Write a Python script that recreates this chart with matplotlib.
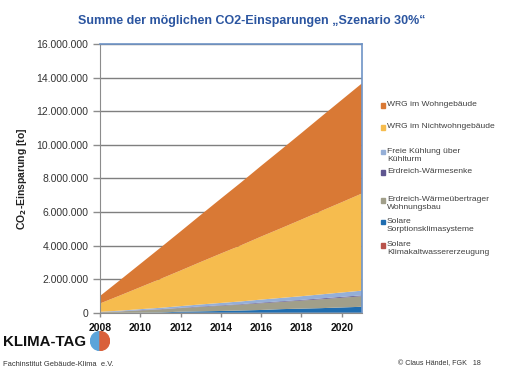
import numpy as np
import matplotlib
matplotlib.use("Agg")
import matplotlib.pyplot as plt
from matplotlib.ticker import FuncFormatter
from matplotlib.patches import Wedge

plt.rcParams['font.family'] = ['Liberation Sans', 'DejaVu Sans']

# ===== Daten (Mio. t CO2, jährlich) =====
jahre = np.arange(2008, 2022)
solar_kaltwasser = [0.00, 0.00, 0.00, 0.00, 0.01, 0.01, 0.01, 0.01, 0.01, 0.01, 0.01, 0.01, 0.01, 0.01]
solar_sorption = [0.00, 0.00, 0.01, 0.02, 0.06, 0.08, 0.10, 0.13, 0.16, 0.21, 0.24, 0.27, 0.31, 0.35]
erdreich_uebertrager = [0.03, 0.08, 0.13, 0.18, 0.21, 0.26, 0.31, 0.35, 0.40, 0.43, 0.48, 0.53, 0.58, 0.63]
erdreich_senke = [0.01, 0.01, 0.02, 0.02, 0.02, 0.03, 0.03, 0.03, 0.04, 0.04, 0.04, 0.05, 0.05, 0.05]
freie_kuehlung = [0.02, 0.04, 0.06, 0.08, 0.10, 0.12, 0.14, 0.16, 0.18, 0.20, 0.22, 0.24, 0.26, 0.28]
wrg_nichtwohn = [0.50, 0.91, 1.31, 1.72, 2.12, 2.53, 2.94, 3.34, 3.75, 4.15, 4.56, 4.97, 5.37, 5.78]
wrg_wohn = [0.45, 0.92, 1.39, 1.86, 2.33, 2.80, 3.27, 3.74, 4.21, 4.68, 5.15, 5.62, 6.09, 6.55]

serien = [solar_kaltwasser, solar_sorption, erdreich_uebertrager, erdreich_senke,
          freie_kuehlung, wrg_nichtwohn, wrg_wohn]
namen = ["Solare\nKlimakaltwassererzeugung", "Solare\nSorptionsklimasysteme",
         "Erdreich-Wärmeübertrager\nWohnungsbau", "Erdreich-Wärmesenke",
         "Freie Kühlung über\nKühlturm", "WRG im Nichtwohngebäude", "WRG im Wohngebäude"]
farben = ['#B8524A', '#1F6DB0', '#A19F8A', '#5F5690', '#95AFD7', '#F6BC4E', '#D97935']

fig = plt.figure(figsize=(5.06, 3.76), dpi=100)
ax = fig.add_axes([0.198, 0.168, 0.517, 0.715])

werte = [np.array(s) * 1e6 for s in serien]
ax.stackplot(jahre, *werte, colors=farben, linewidth=0, zorder=2)

ax.set_xlim(2008, 2021)
ax.set_ylim(0, 16e6)
ax.set_yticks(np.arange(0, 16e6 + 1, 2e6))
ax.set_xticks(np.arange(2008, 2021, 2))
ax.yaxis.set_major_formatter(FuncFormatter(lambda v, p: f"{int(v):,}".replace(",", ".")))
ax.grid(axis='y', color='#7F7F7F', lw=1, zorder=1)
ax.set_axisbelow(True)

for s in ['left', 'bottom']:
    ax.spines[s].set_color('#8C8C8C')
for s in ['top', 'right']:
    ax.spines[s].set_color('#6E93C6')
    ax.spines[s].set_linewidth(1.2)
ax.tick_params(axis='y', colors='#8C8C8C', labelcolor='#333333', labelsize=7.5, length=5, width=1)
ax.tick_params(axis='x', colors='#8C8C8C', labelcolor='#111111', labelsize=7.5, length=3, width=1, pad=4)
for t in ax.get_xticklabels():
    t.set_fontweight('bold')

ax.set_ylabel(r"CO$_\mathbf{2}$-Einsparung [to]", fontsize=7.5, fontweight='bold', color='#222222', labelpad=5)

fig.text(0.498, 0.945, "Summe der möglichen CO2-Einsparungen „Szenario 30%“",
         ha='center', va='center', fontsize=9.0, fontweight='bold', color='#2B55A0')

# Legende (von oben nach unten)
leg_y = [105, 127, 152, 172, 200, 222, 245]
for i, yp in enumerate(leg_y):
    k = len(serien) - 1 - i
    fig.patches.append(plt.Rectangle((381 / 506, 1 - (yp + 2.5) / 376), 4.5 / 506, 4.5 / 376,
                                     transform=fig.transFigure, color=farben[k]))
    fig.text(387 / 506, 1 - (yp - 4) / 376, namen[k], ha='left', va='top',
             fontsize=6.1, color='#404040', linespacing=1.2)

# Fußzeile
fig.text(3 / 506, 1 - 342 / 376, "KLIMA-TAG", fontsize=10.8, fontweight='bold',
         color='#111111', ha='left', va='center')
fig.text(3 / 506, 1 - 364 / 376, "Fachinstitut Gebäude-Klima  e.V.", fontsize=5.4,
         color='#333333', ha='left', va='center')
fig.text(398 / 506, 1 - 364 / 376, "© Claus Händel, FGK   18", fontsize=5.1,
         color='#333333', ha='left', va='center')

logo = fig.add_axes([90 / 506, 1 - 351 / 376, 20 / 506, 20 / 376])
logo.add_patch(Wedge((0, 0), 1, 90, 270, color='#5BA4DA'))
logo.add_patch(Wedge((0, 0), 1, -90, 90, color='#D9603B'))
logo.set_xlim(-1.05, 1.05)
logo.set_ylim(-1.05, 1.05)
logo.set_aspect('equal')
logo.axis('off')

fig.savefig("out.png", dpi=100)
